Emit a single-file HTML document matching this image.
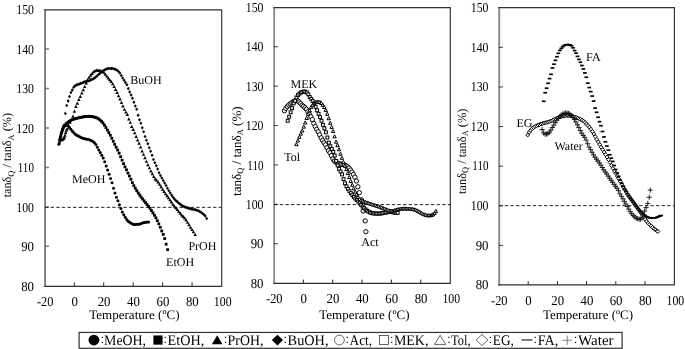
<!DOCTYPE html>
<html><head><meta charset="utf-8"><title>chart</title>
<style>html,body{margin:0;padding:0;background:#fff}svg{display:block;will-change:transform}text{font-family:"Liberation Serif",serif;text-rendering:geometricPrecision}</style>
</head><body>
<svg width="685" height="349" viewBox="0 0 685 349">
<rect width="685" height="349" fill="#fff"/>
<path d="M45.05 9.40V286.80" stroke="#6e6e6e" stroke-width="1.7" fill="none"/>
<path d="M44.20 9.9H221.7V286.3H44.20" stroke="#303030" stroke-width="1.15" fill="none" stroke-linejoin="miter"/>
<text x="16.25" y="14.25" font-size="13.7" fill="#000" textLength="17.70" lengthAdjust="spacingAndGlyphs">150</text>
<text x="16.25" y="53.74" font-size="13.7" fill="#000" textLength="17.70" lengthAdjust="spacingAndGlyphs">140</text>
<text x="16.25" y="93.22" font-size="13.7" fill="#000" textLength="17.70" lengthAdjust="spacingAndGlyphs">130</text>
<text x="16.25" y="132.71" font-size="13.7" fill="#000" textLength="17.70" lengthAdjust="spacingAndGlyphs">120</text>
<text x="17.75" y="172.19" font-size="13.7" fill="#000" textLength="16.20" lengthAdjust="spacingAndGlyphs">110</text>
<text x="16.25" y="211.68" font-size="13.7" fill="#000" textLength="17.70" lengthAdjust="spacingAndGlyphs">100</text>
<text x="21.15" y="251.16" font-size="13.7" fill="#000" textLength="12.80" lengthAdjust="spacingAndGlyphs">90</text>
<text x="21.15" y="290.65" font-size="13.7" fill="#000" textLength="12.80" lengthAdjust="spacingAndGlyphs">80</text>
<text x="36.90" y="306.00" font-size="13.7" fill="#000" textLength="16.50" lengthAdjust="spacingAndGlyphs">-20</text>
<text x="71.39" y="306.00" font-size="13.7" fill="#000" textLength="6.40" lengthAdjust="spacingAndGlyphs">0</text>
<text x="97.63" y="306.00" font-size="13.7" fill="#000" textLength="12.80" lengthAdjust="spacingAndGlyphs">20</text>
<text x="127.07" y="306.00" font-size="13.7" fill="#000" textLength="12.80" lengthAdjust="spacingAndGlyphs">40</text>
<text x="156.52" y="306.00" font-size="13.7" fill="#000" textLength="12.80" lengthAdjust="spacingAndGlyphs">60</text>
<text x="185.96" y="306.00" font-size="13.7" fill="#000" textLength="12.80" lengthAdjust="spacingAndGlyphs">80</text>
<text x="213.85" y="306.00" font-size="13.7" fill="#000" textLength="17.70" lengthAdjust="spacingAndGlyphs">100</text>
<path d="M44.75 48.94h4.2M44.75 88.42h4.2M44.75 127.91h4.2M44.75 167.39h4.2M44.75 206.88h4.2M44.75 246.36h4.2" stroke="#777" stroke-width="1.5" fill="none"/>
<path d="M74.29 286.3v-3.8M103.73 286.3v-3.8M133.18 286.3v-3.8M162.62 286.3v-3.8M192.06 286.3v-3.8" stroke="#222" stroke-width="1" fill="none"/>
<path d="M45.05 207.33H221.7" stroke="#222" stroke-width="1" stroke-dasharray="3.4 2.2" fill="none"/>
<text x="89.30" y="319.0" font-size="13" fill="#000" textLength="90.2" lengthAdjust="spacingAndGlyphs">Temperature (ºC)</text>
<text transform="translate(11.45 197.30) rotate(-90)" font-size="12.4" fill="#000" textLength="84.3" lengthAdjust="spacingAndGlyphs">tanδ<tspan font-size="8.5" dy="2.2">Q</tspan><tspan dy="-2.2"> / tanδ</tspan><tspan font-size="8.5" dy="2.2">A</tspan><tspan dy="-2.2"> (%)</tspan></text>
<path d="M274.2 7.15V283.90" stroke="#888" stroke-width="1.8" fill="none"/>
<path d="M273.30 7.65H450.3V283.4H273.30" stroke="#303030" stroke-width="1.15" fill="none" stroke-linejoin="miter"/>
<text x="245.80" y="12.00" font-size="13.7" fill="#000" textLength="17.70" lengthAdjust="spacingAndGlyphs">150</text>
<text x="245.80" y="51.39" font-size="13.7" fill="#000" textLength="17.70" lengthAdjust="spacingAndGlyphs">140</text>
<text x="245.80" y="90.79" font-size="13.7" fill="#000" textLength="17.70" lengthAdjust="spacingAndGlyphs">130</text>
<text x="245.80" y="130.18" font-size="13.7" fill="#000" textLength="17.70" lengthAdjust="spacingAndGlyphs">120</text>
<text x="247.30" y="169.57" font-size="13.7" fill="#000" textLength="16.20" lengthAdjust="spacingAndGlyphs">110</text>
<text x="245.80" y="208.96" font-size="13.7" fill="#000" textLength="17.70" lengthAdjust="spacingAndGlyphs">100</text>
<text x="250.70" y="248.36" font-size="13.7" fill="#000" textLength="12.80" lengthAdjust="spacingAndGlyphs">90</text>
<text x="250.70" y="287.75" font-size="13.7" fill="#000" textLength="12.80" lengthAdjust="spacingAndGlyphs">80</text>
<text x="266.05" y="303.10" font-size="13.7" fill="#000" textLength="16.50" lengthAdjust="spacingAndGlyphs">-20</text>
<text x="300.45" y="303.10" font-size="13.7" fill="#000" textLength="6.40" lengthAdjust="spacingAndGlyphs">0</text>
<text x="326.60" y="303.10" font-size="13.7" fill="#000" textLength="12.80" lengthAdjust="spacingAndGlyphs">20</text>
<text x="355.95" y="303.10" font-size="13.7" fill="#000" textLength="12.80" lengthAdjust="spacingAndGlyphs">40</text>
<text x="385.30" y="303.10" font-size="13.7" fill="#000" textLength="12.80" lengthAdjust="spacingAndGlyphs">60</text>
<text x="414.65" y="303.10" font-size="13.7" fill="#000" textLength="12.80" lengthAdjust="spacingAndGlyphs">80</text>
<text x="442.45" y="303.10" font-size="13.7" fill="#000" textLength="17.70" lengthAdjust="spacingAndGlyphs">100</text>
<path d="M273.90 46.74h4.2M273.90 86.14h4.2M273.90 125.53h4.2M273.90 164.92h4.2M273.90 204.31h4.2M273.90 243.71h4.2" stroke="#111" stroke-width="0.8" fill="none"/>
<path d="M303.35 283.4v-3.8M332.70 283.4v-3.8M362.05 283.4v-3.8M391.40 283.4v-3.8M420.75 283.4v-3.8" stroke="#222" stroke-width="1" fill="none"/>
<path d="M274.2 204.61H450.3" stroke="#222" stroke-width="1" stroke-dasharray="3.4 2.2" fill="none"/>
<text x="319.30" y="319.0" font-size="13" fill="#000" textLength="90.2" lengthAdjust="spacingAndGlyphs">Temperature (ºC)</text>
<text transform="translate(240.60 196.00) rotate(-90)" font-size="13.1" fill="#000" textLength="89.7" lengthAdjust="spacingAndGlyphs">tanδ<tspan font-size="8.5" dy="2.2">Q</tspan><tspan dy="-2.2"> / tanδ</tspan><tspan font-size="8.5" dy="2.2">A</tspan><tspan dy="-2.2"> (%)</tspan></text>
<path d="M499.2 7.10V285.40" stroke="#888" stroke-width="1.9" fill="none"/>
<path d="M498.25 7.6H674.4V284.9H498.25" stroke="#303030" stroke-width="1.15" fill="none" stroke-linejoin="miter"/>
<text x="470.80" y="11.95" font-size="13.7" fill="#000" textLength="17.70" lengthAdjust="spacingAndGlyphs">150</text>
<text x="470.80" y="51.56" font-size="13.7" fill="#000" textLength="17.70" lengthAdjust="spacingAndGlyphs">140</text>
<text x="470.80" y="91.18" font-size="13.7" fill="#000" textLength="17.70" lengthAdjust="spacingAndGlyphs">130</text>
<text x="470.80" y="130.79" font-size="13.7" fill="#000" textLength="17.70" lengthAdjust="spacingAndGlyphs">120</text>
<text x="472.30" y="170.41" font-size="13.7" fill="#000" textLength="16.20" lengthAdjust="spacingAndGlyphs">110</text>
<text x="470.80" y="210.02" font-size="13.7" fill="#000" textLength="17.70" lengthAdjust="spacingAndGlyphs">100</text>
<text x="475.70" y="249.64" font-size="13.7" fill="#000" textLength="12.80" lengthAdjust="spacingAndGlyphs">90</text>
<text x="475.70" y="289.25" font-size="13.7" fill="#000" textLength="12.80" lengthAdjust="spacingAndGlyphs">80</text>
<text x="491.05" y="304.60" font-size="13.7" fill="#000" textLength="16.50" lengthAdjust="spacingAndGlyphs">-20</text>
<text x="525.30" y="304.60" font-size="13.7" fill="#000" textLength="6.40" lengthAdjust="spacingAndGlyphs">0</text>
<text x="551.30" y="304.60" font-size="13.7" fill="#000" textLength="12.80" lengthAdjust="spacingAndGlyphs">20</text>
<text x="580.50" y="304.60" font-size="13.7" fill="#000" textLength="12.80" lengthAdjust="spacingAndGlyphs">40</text>
<text x="609.70" y="304.60" font-size="13.7" fill="#000" textLength="12.80" lengthAdjust="spacingAndGlyphs">60</text>
<text x="638.90" y="304.60" font-size="13.7" fill="#000" textLength="12.80" lengthAdjust="spacingAndGlyphs">80</text>
<text x="666.55" y="304.60" font-size="13.7" fill="#000" textLength="17.70" lengthAdjust="spacingAndGlyphs">100</text>
<path d="M498.90 47.31h4.2M498.90 86.93h4.2M498.90 126.54h4.2M498.90 166.16h4.2M498.90 205.77h4.2M498.90 245.39h4.2" stroke="#111" stroke-width="0.8" fill="none"/>
<path d="M528.20 284.9v-3.8M557.40 284.9v-3.8M586.60 284.9v-3.8M615.80 284.9v-3.8M645.00 284.9v-3.8" stroke="#222" stroke-width="1" fill="none"/>
<path d="M499.2 205.67H674.4" stroke="#222" stroke-width="1" stroke-dasharray="3.4 2.2" fill="none"/>
<text x="542.90" y="319.0" font-size="13" fill="#000" textLength="90.2" lengthAdjust="spacingAndGlyphs">Temperature (ºC)</text>
<text transform="translate(465.60 194.00) rotate(-90)" font-size="12.5" fill="#000" textLength="85.4" lengthAdjust="spacingAndGlyphs">tanδ<tspan font-size="8.5" dy="2.2">Q</tspan><tspan dy="-2.2"> / tanδ</tspan><tspan font-size="8.5" dy="2.2">A</tspan><tspan dy="-2.2"> (%)</tspan></text>
<g fill="#000" stroke="none"><circle cx="58.80" cy="144.30" r="1.5"/><circle cx="59.58" cy="140.12" r="1.5"/><circle cx="60.36" cy="136.67" r="1.5"/><circle cx="61.14" cy="133.61" r="1.5"/><circle cx="61.92" cy="130.98" r="1.5"/><circle cx="62.70" cy="128.71" r="1.5"/><circle cx="63.48" cy="127.05" r="1.5"/><circle cx="64.26" cy="125.70" r="1.5"/><circle cx="65.03" cy="125.28" r="1.5"/><circle cx="66.50" cy="125.20" r="1.5"/><circle cx="67.97" cy="125.74" r="1.5"/><circle cx="69.44" cy="127.52" r="1.5"/><circle cx="70.91" cy="129.34" r="1.5"/><circle cx="72.38" cy="131.25" r="1.5"/><circle cx="73.85" cy="132.84" r="1.5"/><circle cx="75.32" cy="134.14" r="1.5"/><circle cx="76.79" cy="135.18" r="1.5"/><circle cx="78.26" cy="136.08" r="1.5"/><circle cx="79.73" cy="136.87" r="1.5"/><circle cx="81.20" cy="137.56" r="1.5"/><circle cx="82.67" cy="138.13" r="1.5"/><circle cx="84.14" cy="138.62" r="1.5"/><circle cx="85.61" cy="138.98" r="1.5"/><circle cx="87.08" cy="139.21" r="1.5"/><circle cx="88.55" cy="139.46" r="1.5"/><circle cx="90.02" cy="139.97" r="1.5"/><circle cx="91.49" cy="140.73" r="1.5"/><circle cx="92.96" cy="141.62" r="1.5"/><circle cx="94.42" cy="142.81" r="1.5"/><circle cx="95.89" cy="144.46" r="1.5"/><circle cx="97.36" cy="147.17" r="1.5"/><circle cx="98.83" cy="150.06" r="1.5"/><circle cx="100.30" cy="152.53" r="1.5"/><circle cx="101.77" cy="155.18" r="1.5"/><circle cx="103.24" cy="158.03" r="1.5"/><circle cx="104.71" cy="161.75" r="1.5"/><circle cx="106.18" cy="166.03" r="1.5"/><circle cx="107.65" cy="170.00" r="1.5"/><circle cx="109.12" cy="174.32" r="1.5"/><circle cx="110.59" cy="178.46" r="1.5"/><circle cx="112.05" cy="182.80" r="1.5"/><circle cx="113.52" cy="188.21" r="1.5"/><circle cx="114.99" cy="192.99" r="1.5"/><circle cx="116.46" cy="197.29" r="1.5"/><circle cx="117.93" cy="200.83" r="1.5"/><circle cx="119.40" cy="204.81" r="1.5"/><circle cx="120.87" cy="208.40" r="1.5"/><circle cx="122.34" cy="212.03" r="1.5"/><circle cx="123.81" cy="214.81" r="1.5"/><circle cx="125.28" cy="217.28" r="1.5"/><circle cx="126.74" cy="219.52" r="1.5"/><circle cx="128.21" cy="221.14" r="1.5"/><circle cx="129.68" cy="222.36" r="1.5"/><circle cx="131.15" cy="223.28" r="1.5"/><circle cx="132.62" cy="223.95" r="1.5"/><circle cx="134.09" cy="224.43" r="1.5"/><circle cx="135.56" cy="224.48" r="1.5"/><circle cx="137.03" cy="224.35" r="1.5"/><circle cx="138.50" cy="224.14" r="1.5"/><circle cx="139.97" cy="223.88" r="1.5"/><circle cx="141.44" cy="223.38" r="1.5"/><circle cx="142.91" cy="222.84" r="1.5"/><circle cx="144.38" cy="222.49" r="1.5"/><circle cx="145.85" cy="222.22" r="1.5"/><circle cx="147.32" cy="222.01" r="1.5"/><circle cx="148.60" cy="221.90" r="1.5"/></g>
<g fill="#000" stroke="none"><rect x="57.90" y="141.40" width="2.8" height="2.8"/><rect x="58.68" y="137.55" width="2.8" height="2.8"/><rect x="59.46" y="134.44" width="2.8" height="2.8"/><rect x="60.24" y="131.51" width="2.8" height="2.8"/><rect x="61.02" y="128.87" width="2.8" height="2.8"/><rect x="61.80" y="126.61" width="2.8" height="2.8"/><rect x="62.58" y="124.84" width="2.8" height="2.8"/><rect x="63.35" y="123.61" width="2.8" height="2.8"/><rect x="64.82" y="122.19" width="2.8" height="2.8"/><rect x="66.29" y="121.12" width="2.8" height="2.8"/><rect x="67.76" y="120.04" width="2.8" height="2.8"/><rect x="69.23" y="119.05" width="2.8" height="2.8"/><rect x="70.70" y="118.34" width="2.8" height="2.8"/><rect x="72.17" y="117.81" width="2.8" height="2.8"/><rect x="73.64" y="117.37" width="2.8" height="2.8"/><rect x="75.11" y="116.96" width="2.8" height="2.8"/><rect x="76.58" y="116.58" width="2.8" height="2.8"/><rect x="78.05" y="116.24" width="2.8" height="2.8"/><rect x="79.52" y="115.93" width="2.8" height="2.8"/><rect x="80.99" y="115.64" width="2.8" height="2.8"/><rect x="82.46" y="115.37" width="2.8" height="2.8"/><rect x="83.93" y="115.19" width="2.8" height="2.8"/><rect x="85.40" y="115.05" width="2.8" height="2.8"/><rect x="86.87" y="114.95" width="2.8" height="2.8"/><rect x="88.34" y="114.90" width="2.8" height="2.8"/><rect x="89.81" y="115.02" width="2.8" height="2.8"/><rect x="91.28" y="115.32" width="2.8" height="2.8"/><rect x="92.75" y="115.64" width="2.8" height="2.8"/><rect x="94.22" y="116.05" width="2.8" height="2.8"/><rect x="95.69" y="116.62" width="2.8" height="2.8"/><rect x="97.16" y="117.51" width="2.8" height="2.8"/><rect x="98.63" y="118.62" width="2.8" height="2.8"/><rect x="100.10" y="119.95" width="2.8" height="2.8"/><rect x="101.56" y="121.58" width="2.8" height="2.8"/><rect x="103.03" y="123.68" width="2.8" height="2.8"/><rect x="104.50" y="126.08" width="2.8" height="2.8"/><rect x="105.97" y="128.68" width="2.8" height="2.8"/><rect x="107.44" y="131.20" width="2.8" height="2.8"/><rect x="108.91" y="133.88" width="2.8" height="2.8"/><rect x="110.38" y="136.85" width="2.8" height="2.8"/><rect x="111.85" y="139.91" width="2.8" height="2.8"/><rect x="113.32" y="142.96" width="2.8" height="2.8"/><rect x="114.79" y="145.90" width="2.8" height="2.8"/><rect x="116.26" y="148.66" width="2.8" height="2.8"/><rect x="117.73" y="151.73" width="2.8" height="2.8"/><rect x="119.20" y="155.32" width="2.8" height="2.8"/><rect x="120.67" y="158.78" width="2.8" height="2.8"/><rect x="122.14" y="162.28" width="2.8" height="2.8"/><rect x="123.60" y="165.44" width="2.8" height="2.8"/><rect x="125.07" y="168.39" width="2.8" height="2.8"/><rect x="126.54" y="171.68" width="2.8" height="2.8"/><rect x="128.01" y="174.59" width="2.8" height="2.8"/><rect x="129.48" y="177.86" width="2.8" height="2.8"/><rect x="130.95" y="181.23" width="2.8" height="2.8"/><rect x="132.42" y="184.23" width="2.8" height="2.8"/><rect x="133.89" y="186.81" width="2.8" height="2.8"/><rect x="135.36" y="189.22" width="2.8" height="2.8"/><rect x="136.83" y="191.55" width="2.8" height="2.8"/><rect x="138.30" y="193.73" width="2.8" height="2.8"/><rect x="139.77" y="195.73" width="2.8" height="2.8"/><rect x="141.24" y="197.63" width="2.8" height="2.8"/><rect x="142.71" y="199.47" width="2.8" height="2.8"/><rect x="144.18" y="201.33" width="2.8" height="2.8"/><rect x="145.65" y="203.16" width="2.8" height="2.8"/><rect x="147.12" y="205.04" width="2.8" height="2.8"/><rect x="148.58" y="207.04" width="2.8" height="2.8"/><rect x="150.05" y="209.20" width="2.8" height="2.8"/><rect x="151.52" y="211.48" width="2.8" height="2.8"/><rect x="152.99" y="213.83" width="2.8" height="2.8"/><rect x="154.46" y="216.38" width="2.8" height="2.8"/><rect x="155.93" y="219.27" width="2.8" height="2.8"/><rect x="157.40" y="222.43" width="2.8" height="2.8"/><rect x="158.87" y="225.89" width="2.8" height="2.8"/><rect x="160.34" y="229.60" width="2.8" height="2.8"/><rect x="161.81" y="233.07" width="2.8" height="2.8"/><rect x="163.28" y="237.16" width="2.8" height="2.8"/><rect x="164.75" y="242.80" width="2.8" height="2.8"/><rect x="166.20" y="248.20" width="2.8" height="2.8"/></g>
<g fill="#000" stroke="none"><path d="M61.50 138.20l1.75 3.2h-3.5z"/><path d="M62.20 137.87l1.75 3.2h-3.5z"/><path d="M62.90 137.30l1.75 3.2h-3.5z"/><path d="M63.60 136.59l1.75 3.2h-3.5z"/><path d="M64.30 135.60l1.75 3.2h-3.5z"/><path d="M65.00 133.49l1.75 3.2h-3.5z"/><path d="M65.70 130.75l1.75 3.2h-3.5z"/><path d="M66.40 128.64l1.75 3.2h-3.5z"/><path d="M67.10 127.09l1.75 3.2h-3.5z"/><path d="M68.56 123.77l1.75 3.2h-3.5z"/><path d="M70.03 120.62l1.75 3.2h-3.5z"/><path d="M71.50 117.88l1.75 3.2h-3.5z"/><path d="M72.97 114.60l1.75 3.2h-3.5z"/><path d="M74.44 109.52l1.75 3.2h-3.5z"/><path d="M75.91 104.73l1.75 3.2h-3.5z"/><path d="M77.38 101.45l1.75 3.2h-3.5z"/><path d="M78.85 97.84l1.75 3.2h-3.5z"/><path d="M80.32 94.83l1.75 3.2h-3.5z"/><path d="M81.79 91.26l1.75 3.2h-3.5z"/><path d="M83.26 87.97l1.75 3.2h-3.5z"/><path d="M84.72 84.91l1.75 3.2h-3.5z"/><path d="M86.19 81.30l1.75 3.2h-3.5z"/><path d="M87.66 77.97l1.75 3.2h-3.5z"/><path d="M89.13 75.49l1.75 3.2h-3.5z"/><path d="M90.60 73.53l1.75 3.2h-3.5z"/><path d="M92.07 71.71l1.75 3.2h-3.5z"/><path d="M93.54 69.97l1.75 3.2h-3.5z"/><path d="M95.01 68.97l1.75 3.2h-3.5z"/><path d="M96.48 68.50l1.75 3.2h-3.5z"/><path d="M97.95 68.54l1.75 3.2h-3.5z"/><path d="M99.42 68.65l1.75 3.2h-3.5z"/><path d="M100.89 68.93l1.75 3.2h-3.5z"/><path d="M102.36 69.62l1.75 3.2h-3.5z"/><path d="M103.83 70.63l1.75 3.2h-3.5z"/><path d="M105.30 72.45l1.75 3.2h-3.5z"/><path d="M106.77 74.33l1.75 3.2h-3.5z"/><path d="M108.24 76.19l1.75 3.2h-3.5z"/><path d="M109.70 77.96l1.75 3.2h-3.5z"/><path d="M111.17 79.84l1.75 3.2h-3.5z"/><path d="M112.64 82.01l1.75 3.2h-3.5z"/><path d="M114.11 84.69l1.75 3.2h-3.5z"/><path d="M115.58 87.69l1.75 3.2h-3.5z"/><path d="M117.05 90.81l1.75 3.2h-3.5z"/><path d="M118.52 94.08l1.75 3.2h-3.5z"/><path d="M119.99 97.26l1.75 3.2h-3.5z"/><path d="M121.46 100.75l1.75 3.2h-3.5z"/><path d="M122.93 104.37l1.75 3.2h-3.5z"/><path d="M124.40 107.63l1.75 3.2h-3.5z"/><path d="M125.87 110.39l1.75 3.2h-3.5z"/><path d="M127.34 112.86l1.75 3.2h-3.5z"/><path d="M128.80 117.32l1.75 3.2h-3.5z"/><path d="M130.27 120.66l1.75 3.2h-3.5z"/><path d="M131.74 124.76l1.75 3.2h-3.5z"/><path d="M133.21 127.72l1.75 3.2h-3.5z"/><path d="M134.68 131.17l1.75 3.2h-3.5z"/><path d="M136.15 134.74l1.75 3.2h-3.5z"/><path d="M137.62 138.18l1.75 3.2h-3.5z"/><path d="M139.09 141.49l1.75 3.2h-3.5z"/><path d="M140.56 145.28l1.75 3.2h-3.5z"/><path d="M142.02 149.21l1.75 3.2h-3.5z"/><path d="M143.49 152.65l1.75 3.2h-3.5z"/><path d="M144.96 156.08l1.75 3.2h-3.5z"/><path d="M146.43 159.64l1.75 3.2h-3.5z"/><path d="M147.90 162.94l1.75 3.2h-3.5z"/><path d="M149.37 166.17l1.75 3.2h-3.5z"/><path d="M150.84 169.21l1.75 3.2h-3.5z"/><path d="M152.31 172.06l1.75 3.2h-3.5z"/><path d="M153.78 174.78l1.75 3.2h-3.5z"/><path d="M155.25 177.18l1.75 3.2h-3.5z"/><path d="M156.72 178.60l1.75 3.2h-3.5z"/><path d="M158.19 180.33l1.75 3.2h-3.5z"/><path d="M159.65 182.50l1.75 3.2h-3.5z"/><path d="M161.12 185.00l1.75 3.2h-3.5z"/><path d="M162.59 187.47l1.75 3.2h-3.5z"/><path d="M164.06 189.83l1.75 3.2h-3.5z"/><path d="M165.53 192.01l1.75 3.2h-3.5z"/><path d="M167.00 194.00l1.75 3.2h-3.5z"/><path d="M168.47 196.05l1.75 3.2h-3.5z"/><path d="M169.94 198.15l1.75 3.2h-3.5z"/><path d="M171.41 200.29l1.75 3.2h-3.5z"/><path d="M172.88 202.45l1.75 3.2h-3.5z"/><path d="M174.35 204.38l1.75 3.2h-3.5z"/><path d="M175.82 206.05l1.75 3.2h-3.5z"/><path d="M177.29 207.82l1.75 3.2h-3.5z"/><path d="M178.76 209.75l1.75 3.2h-3.5z"/><path d="M180.23 211.59l1.75 3.2h-3.5z"/><path d="M181.70 213.31l1.75 3.2h-3.5z"/><path d="M183.17 214.87l1.75 3.2h-3.5z"/><path d="M184.64 216.28l1.75 3.2h-3.5z"/><path d="M186.11 218.24l1.75 3.2h-3.5z"/><path d="M187.58 220.67l1.75 3.2h-3.5z"/><path d="M189.04 223.08l1.75 3.2h-3.5z"/><path d="M190.51 225.52l1.75 3.2h-3.5z"/><path d="M191.98 227.89l1.75 3.2h-3.5z"/><path d="M193.45 230.14l1.75 3.2h-3.5z"/><path d="M195.20 232.70l1.75 3.2h-3.5z"/></g>
<g fill="#000" stroke="none"><path d="M65.30 111.85l1.5 1.75l-1.5 1.75l-1.5 -1.75z"/><path d="M66.70 103.82l1.5 1.75l-1.5 1.75l-1.5 -1.75z"/><path d="M68.10 99.28l1.5 1.75l-1.5 1.75l-1.5 -1.75z"/><path d="M69.50 94.66l1.5 1.75l-1.5 1.75l-1.5 -1.75z"/><path d="M70.90 90.78l1.5 1.75l-1.5 1.75l-1.5 -1.75z"/><path d="M72.30 88.15l1.5 1.75l-1.5 1.75l-1.5 -1.75z"/><path d="M73.69 85.52l1.5 1.75l-1.5 1.75l-1.5 -1.75z"/><path d="M75.09 84.05l1.5 1.75l-1.5 1.75l-1.5 -1.75z"/><path d="M76.49 83.28l1.5 1.75l-1.5 1.75l-1.5 -1.75z"/><path d="M77.89 82.75l1.5 1.75l-1.5 1.75l-1.5 -1.75z"/><path d="M79.29 82.35l1.5 1.75l-1.5 1.75l-1.5 -1.75z"/><path d="M80.69 81.83l1.5 1.75l-1.5 1.75l-1.5 -1.75z"/><path d="M82.09 81.23l1.5 1.75l-1.5 1.75l-1.5 -1.75z"/><path d="M83.49 80.58l1.5 1.75l-1.5 1.75l-1.5 -1.75z"/><path d="M84.89 79.93l1.5 1.75l-1.5 1.75l-1.5 -1.75z"/><path d="M86.29 79.52l1.5 1.75l-1.5 1.75l-1.5 -1.75z"/><path d="M87.69 79.26l1.5 1.75l-1.5 1.75l-1.5 -1.75z"/><path d="M89.09 78.96l1.5 1.75l-1.5 1.75l-1.5 -1.75z"/><path d="M90.49 78.51l1.5 1.75l-1.5 1.75l-1.5 -1.75z"/><path d="M91.89 77.87l1.5 1.75l-1.5 1.75l-1.5 -1.75z"/><path d="M93.29 77.11l1.5 1.75l-1.5 1.75l-1.5 -1.75z"/><path d="M94.69 76.22l1.5 1.75l-1.5 1.75l-1.5 -1.75z"/><path d="M96.09 75.06l1.5 1.75l-1.5 1.75l-1.5 -1.75z"/><path d="M97.49 73.74l1.5 1.75l-1.5 1.75l-1.5 -1.75z"/><path d="M98.89 72.48l1.5 1.75l-1.5 1.75l-1.5 -1.75z"/><path d="M100.29 71.27l1.5 1.75l-1.5 1.75l-1.5 -1.75z"/><path d="M101.69 70.13l1.5 1.75l-1.5 1.75l-1.5 -1.75z"/><path d="M103.08 69.11l1.5 1.75l-1.5 1.75l-1.5 -1.75z"/><path d="M104.48 68.17l1.5 1.75l-1.5 1.75l-1.5 -1.75z"/><path d="M105.88 67.55l1.5 1.75l-1.5 1.75l-1.5 -1.75z"/><path d="M107.28 67.12l1.5 1.75l-1.5 1.75l-1.5 -1.75z"/><path d="M108.68 66.87l1.5 1.75l-1.5 1.75l-1.5 -1.75z"/><path d="M110.08 66.85l1.5 1.75l-1.5 1.75l-1.5 -1.75z"/><path d="M111.48 66.85l1.5 1.75l-1.5 1.75l-1.5 -1.75z"/><path d="M112.88 66.87l1.5 1.75l-1.5 1.75l-1.5 -1.75z"/><path d="M114.28 67.24l1.5 1.75l-1.5 1.75l-1.5 -1.75z"/><path d="M115.68 67.85l1.5 1.75l-1.5 1.75l-1.5 -1.75z"/><path d="M117.08 68.59l1.5 1.75l-1.5 1.75l-1.5 -1.75z"/><path d="M118.48 69.66l1.5 1.75l-1.5 1.75l-1.5 -1.75z"/><path d="M119.88 71.17l1.5 1.75l-1.5 1.75l-1.5 -1.75z"/><path d="M121.28 73.68l1.5 1.75l-1.5 1.75l-1.5 -1.75z"/><path d="M122.68 76.14l1.5 1.75l-1.5 1.75l-1.5 -1.75z"/><path d="M124.08 78.48l1.5 1.75l-1.5 1.75l-1.5 -1.75z"/><path d="M125.48 80.70l1.5 1.75l-1.5 1.75l-1.5 -1.75z"/><path d="M126.88 83.11l1.5 1.75l-1.5 1.75l-1.5 -1.75z"/><path d="M128.27 86.78l1.5 1.75l-1.5 1.75l-1.5 -1.75z"/><path d="M129.67 90.13l1.5 1.75l-1.5 1.75l-1.5 -1.75z"/><path d="M131.07 93.36l1.5 1.75l-1.5 1.75l-1.5 -1.75z"/><path d="M132.47 96.60l1.5 1.75l-1.5 1.75l-1.5 -1.75z"/><path d="M133.87 100.62l1.5 1.75l-1.5 1.75l-1.5 -1.75z"/><path d="M135.27 104.27l1.5 1.75l-1.5 1.75l-1.5 -1.75z"/><path d="M136.67 107.62l1.5 1.75l-1.5 1.75l-1.5 -1.75z"/><path d="M138.07 113.54l1.5 1.75l-1.5 1.75l-1.5 -1.75z"/><path d="M139.47 118.08l1.5 1.75l-1.5 1.75l-1.5 -1.75z"/><path d="M140.87 121.61l1.5 1.75l-1.5 1.75l-1.5 -1.75z"/><path d="M142.27 125.95l1.5 1.75l-1.5 1.75l-1.5 -1.75z"/><path d="M143.66 129.94l1.5 1.75l-1.5 1.75l-1.5 -1.75z"/><path d="M145.06 134.84l1.5 1.75l-1.5 1.75l-1.5 -1.75z"/><path d="M146.46 138.60l1.5 1.75l-1.5 1.75l-1.5 -1.75z"/><path d="M147.86 142.03l1.5 1.75l-1.5 1.75l-1.5 -1.75z"/><path d="M149.26 145.99l1.5 1.75l-1.5 1.75l-1.5 -1.75z"/><path d="M150.66 149.40l1.5 1.75l-1.5 1.75l-1.5 -1.75z"/><path d="M152.06 153.62l1.5 1.75l-1.5 1.75l-1.5 -1.75z"/><path d="M153.46 157.65l1.5 1.75l-1.5 1.75l-1.5 -1.75z"/><path d="M154.86 160.96l1.5 1.75l-1.5 1.75l-1.5 -1.75z"/><path d="M156.26 163.92l1.5 1.75l-1.5 1.75l-1.5 -1.75z"/><path d="M157.65 167.32l1.5 1.75l-1.5 1.75l-1.5 -1.75z"/><path d="M159.05 170.91l1.5 1.75l-1.5 1.75l-1.5 -1.75z"/><path d="M160.45 173.74l1.5 1.75l-1.5 1.75l-1.5 -1.75z"/><path d="M161.85 176.25l1.5 1.75l-1.5 1.75l-1.5 -1.75z"/><path d="M163.25 178.76l1.5 1.75l-1.5 1.75l-1.5 -1.75z"/><path d="M164.65 181.25l1.5 1.75l-1.5 1.75l-1.5 -1.75z"/><path d="M166.05 183.76l1.5 1.75l-1.5 1.75l-1.5 -1.75z"/><path d="M167.45 186.40l1.5 1.75l-1.5 1.75l-1.5 -1.75z"/><path d="M168.85 188.91l1.5 1.75l-1.5 1.75l-1.5 -1.75z"/><path d="M170.25 191.26l1.5 1.75l-1.5 1.75l-1.5 -1.75z"/><path d="M171.65 193.43l1.5 1.75l-1.5 1.75l-1.5 -1.75z"/><path d="M173.05 195.47l1.5 1.75l-1.5 1.75l-1.5 -1.75z"/><path d="M174.45 197.28l1.5 1.75l-1.5 1.75l-1.5 -1.75z"/><path d="M175.85 198.75l1.5 1.75l-1.5 1.75l-1.5 -1.75z"/><path d="M177.25 200.03l1.5 1.75l-1.5 1.75l-1.5 -1.75z"/><path d="M178.65 201.21l1.5 1.75l-1.5 1.75l-1.5 -1.75z"/><path d="M180.05 202.34l1.5 1.75l-1.5 1.75l-1.5 -1.75z"/><path d="M181.45 203.40l1.5 1.75l-1.5 1.75l-1.5 -1.75z"/><path d="M182.84 204.27l1.5 1.75l-1.5 1.75l-1.5 -1.75z"/><path d="M184.24 204.96l1.5 1.75l-1.5 1.75l-1.5 -1.75z"/><path d="M185.64 205.54l1.5 1.75l-1.5 1.75l-1.5 -1.75z"/><path d="M187.04 206.03l1.5 1.75l-1.5 1.75l-1.5 -1.75z"/><path d="M188.44 206.46l1.5 1.75l-1.5 1.75l-1.5 -1.75z"/><path d="M189.84 206.84l1.5 1.75l-1.5 1.75l-1.5 -1.75z"/><path d="M191.24 207.17l1.5 1.75l-1.5 1.75l-1.5 -1.75z"/><path d="M192.64 207.49l1.5 1.75l-1.5 1.75l-1.5 -1.75z"/><path d="M194.04 207.79l1.5 1.75l-1.5 1.75l-1.5 -1.75z"/><path d="M195.44 208.09l1.5 1.75l-1.5 1.75l-1.5 -1.75z"/><path d="M196.84 208.49l1.5 1.75l-1.5 1.75l-1.5 -1.75z"/><path d="M198.24 209.06l1.5 1.75l-1.5 1.75l-1.5 -1.75z"/><path d="M199.64 209.76l1.5 1.75l-1.5 1.75l-1.5 -1.75z"/><path d="M201.04 210.62l1.5 1.75l-1.5 1.75l-1.5 -1.75z"/><path d="M202.44 211.65l1.5 1.75l-1.5 1.75l-1.5 -1.75z"/><path d="M203.84 212.73l1.5 1.75l-1.5 1.75l-1.5 -1.75z"/><path d="M205.24 214.15l1.5 1.75l-1.5 1.75l-1.5 -1.75z"/><path d="M206.70 216.75l1.5 1.75l-1.5 1.75l-1.5 -1.75z"/></g>
<g fill="#fff" stroke="#000" stroke-width="1"><circle cx="284.40" cy="110.80" r="2.15"/><circle cx="285.87" cy="108.36" r="2.15"/><circle cx="287.34" cy="106.51" r="2.15"/><circle cx="288.81" cy="105.02" r="2.15"/><circle cx="290.28" cy="103.78" r="2.15"/><circle cx="291.75" cy="102.66" r="2.15"/><circle cx="293.22" cy="101.74" r="2.15"/><circle cx="294.69" cy="101.15" r="2.15"/><circle cx="296.16" cy="100.72" r="2.15"/><circle cx="297.63" cy="100.70" r="2.15"/><circle cx="299.10" cy="101.99" r="2.15"/><circle cx="300.56" cy="103.52" r="2.15"/><circle cx="302.03" cy="105.13" r="2.15"/><circle cx="303.50" cy="106.39" r="2.15"/><circle cx="304.97" cy="107.70" r="2.15"/><circle cx="306.44" cy="109.23" r="2.15"/><circle cx="307.91" cy="111.69" r="2.15"/><circle cx="309.38" cy="114.22" r="2.15"/><circle cx="310.85" cy="116.59" r="2.15"/><circle cx="312.32" cy="119.57" r="2.15"/><circle cx="313.79" cy="123.45" r="2.15"/><circle cx="315.26" cy="126.50" r="2.15"/><circle cx="316.73" cy="129.26" r="2.15"/><circle cx="318.20" cy="131.84" r="2.15"/><circle cx="319.67" cy="134.76" r="2.15"/><circle cx="321.14" cy="137.81" r="2.15"/><circle cx="322.60" cy="140.44" r="2.15"/><circle cx="324.07" cy="142.81" r="2.15"/><circle cx="325.54" cy="144.83" r="2.15"/><circle cx="327.01" cy="147.71" r="2.15"/><circle cx="328.48" cy="150.66" r="2.15"/><circle cx="329.95" cy="152.79" r="2.15"/><circle cx="331.42" cy="155.62" r="2.15"/><circle cx="332.89" cy="158.74" r="2.15"/><circle cx="334.36" cy="160.90" r="2.15"/><circle cx="335.83" cy="162.18" r="2.15"/><circle cx="337.30" cy="163.08" r="2.15"/><circle cx="338.77" cy="163.73" r="2.15"/><circle cx="340.24" cy="164.10" r="2.15"/><circle cx="341.71" cy="164.34" r="2.15"/><circle cx="343.18" cy="164.61" r="2.15"/><circle cx="344.65" cy="165.06" r="2.15"/><circle cx="346.12" cy="165.77" r="2.15"/><circle cx="347.59" cy="166.73" r="2.15"/><circle cx="349.05" cy="168.06" r="2.15"/><circle cx="350.52" cy="170.02" r="2.15"/><circle cx="351.99" cy="172.10" r="2.15"/><circle cx="353.46" cy="174.44" r="2.15"/><circle cx="354.93" cy="177.09" r="2.15"/><circle cx="356.40" cy="181.06" r="2.15"/><circle cx="357.87" cy="186.79" r="2.15"/><circle cx="359.34" cy="192.68" r="2.15"/><circle cx="361.40" cy="199.80" r="2.15"/><circle cx="363.10" cy="211.00" r="2.15"/><circle cx="365.20" cy="220.90" r="2.15"/><circle cx="365.90" cy="231.70" r="2.15"/></g>
<g fill="#fff" stroke="#000" stroke-width="1"><rect x="286.25" y="119.35" width="2.9" height="2.9"/><rect x="287.72" y="115.31" width="2.9" height="2.9"/><rect x="289.19" y="110.83" width="2.9" height="2.9"/><rect x="290.66" y="106.72" width="2.9" height="2.9"/><rect x="292.13" y="101.97" width="2.9" height="2.9"/><rect x="293.60" y="99.35" width="2.9" height="2.9"/><rect x="295.06" y="95.99" width="2.9" height="2.9"/><rect x="296.53" y="93.64" width="2.9" height="2.9"/><rect x="298.00" y="92.14" width="2.9" height="2.9"/><rect x="299.47" y="91.12" width="2.9" height="2.9"/><rect x="300.94" y="90.50" width="2.9" height="2.9"/><rect x="302.41" y="90.09" width="2.9" height="2.9"/><rect x="303.88" y="90.23" width="2.9" height="2.9"/><rect x="305.35" y="91.02" width="2.9" height="2.9"/><rect x="306.82" y="92.89" width="2.9" height="2.9"/><rect x="308.29" y="95.61" width="2.9" height="2.9"/><rect x="309.76" y="97.47" width="2.9" height="2.9"/><rect x="311.23" y="99.48" width="2.9" height="2.9"/><rect x="312.70" y="102.05" width="2.9" height="2.9"/><rect x="314.17" y="105.33" width="2.9" height="2.9"/><rect x="315.64" y="108.83" width="2.9" height="2.9"/><rect x="317.10" y="112.30" width="2.9" height="2.9"/><rect x="318.57" y="115.69" width="2.9" height="2.9"/><rect x="320.04" y="119.25" width="2.9" height="2.9"/><rect x="321.51" y="123.39" width="2.9" height="2.9"/><rect x="322.98" y="126.83" width="2.9" height="2.9"/><rect x="324.45" y="130.85" width="2.9" height="2.9"/><rect x="325.92" y="136.03" width="2.9" height="2.9"/><rect x="327.39" y="141.24" width="2.9" height="2.9"/><rect x="328.86" y="144.82" width="2.9" height="2.9"/><rect x="330.33" y="147.49" width="2.9" height="2.9"/><rect x="331.80" y="150.43" width="2.9" height="2.9"/><rect x="333.27" y="154.10" width="2.9" height="2.9"/><rect x="334.73" y="159.51" width="2.9" height="2.9"/><rect x="336.20" y="163.99" width="2.9" height="2.9"/><rect x="337.67" y="167.47" width="2.9" height="2.9"/><rect x="339.14" y="170.05" width="2.9" height="2.9"/><rect x="340.61" y="172.95" width="2.9" height="2.9"/><rect x="342.08" y="177.59" width="2.9" height="2.9"/><rect x="343.55" y="181.83" width="2.9" height="2.9"/><rect x="345.02" y="184.95" width="2.9" height="2.9"/><rect x="346.49" y="187.50" width="2.9" height="2.9"/><rect x="347.96" y="189.69" width="2.9" height="2.9"/><rect x="349.43" y="191.73" width="2.9" height="2.9"/><rect x="350.90" y="193.69" width="2.9" height="2.9"/><rect x="352.37" y="195.50" width="2.9" height="2.9"/><rect x="353.84" y="197.09" width="2.9" height="2.9"/><rect x="355.31" y="198.50" width="2.9" height="2.9"/><rect x="356.77" y="199.99" width="2.9" height="2.9"/><rect x="358.24" y="201.69" width="2.9" height="2.9"/><rect x="359.71" y="203.47" width="2.9" height="2.9"/><rect x="361.18" y="205.16" width="2.9" height="2.9"/><rect x="362.65" y="206.65" width="2.9" height="2.9"/><rect x="364.12" y="208.09" width="2.9" height="2.9"/><rect x="365.59" y="209.32" width="2.9" height="2.9"/><rect x="367.06" y="210.17" width="2.9" height="2.9"/><rect x="368.53" y="210.90" width="2.9" height="2.9"/><rect x="370.00" y="211.49" width="2.9" height="2.9"/><rect x="371.47" y="211.87" width="2.9" height="2.9"/><rect x="372.94" y="212.00" width="2.9" height="2.9"/><rect x="374.41" y="212.07" width="2.9" height="2.9"/><rect x="375.88" y="212.12" width="2.9" height="2.9"/><rect x="377.35" y="212.15" width="2.9" height="2.9"/><rect x="378.82" y="212.10" width="2.9" height="2.9"/><rect x="380.29" y="211.86" width="2.9" height="2.9"/><rect x="381.76" y="211.53" width="2.9" height="2.9"/><rect x="383.23" y="211.22" width="2.9" height="2.9"/><rect x="384.70" y="210.99" width="2.9" height="2.9"/><rect x="386.17" y="210.75" width="2.9" height="2.9"/><rect x="387.64" y="210.55" width="2.9" height="2.9"/><rect x="389.11" y="210.45" width="2.9" height="2.9"/><rect x="390.58" y="210.63" width="2.9" height="2.9"/><rect x="392.05" y="211.05" width="2.9" height="2.9"/><rect x="393.52" y="211.25" width="2.9" height="2.9"/><rect x="394.99" y="211.25" width="2.9" height="2.9"/><rect x="396.25" y="211.25" width="2.9" height="2.9"/></g>
<g fill="#fff" stroke="#000" stroke-width="1"><path d="M296.40 142.65l1.7 3.05h-3.4z"/><path d="M297.87 138.97l1.7 3.05h-3.4z"/><path d="M299.34 135.31l1.7 3.05h-3.4z"/><path d="M300.81 132.09l1.7 3.05h-3.4z"/><path d="M302.28 128.97l1.7 3.05h-3.4z"/><path d="M303.75 125.11l1.7 3.05h-3.4z"/><path d="M305.21 120.91l1.7 3.05h-3.4z"/><path d="M306.68 116.43l1.7 3.05h-3.4z"/><path d="M308.15 112.34l1.7 3.05h-3.4z"/><path d="M309.62 108.68l1.7 3.05h-3.4z"/><path d="M311.09 105.55l1.7 3.05h-3.4z"/><path d="M312.56 103.22l1.7 3.05h-3.4z"/><path d="M314.03 101.63l1.7 3.05h-3.4z"/><path d="M315.50 100.59l1.7 3.05h-3.4z"/><path d="M316.97 100.15l1.7 3.05h-3.4z"/><path d="M318.44 100.08l1.7 3.05h-3.4z"/><path d="M319.91 100.45l1.7 3.05h-3.4z"/><path d="M321.38 101.48l1.7 3.05h-3.4z"/><path d="M322.84 103.28l1.7 3.05h-3.4z"/><path d="M324.31 105.48l1.7 3.05h-3.4z"/><path d="M325.78 108.54l1.7 3.05h-3.4z"/><path d="M327.25 112.29l1.7 3.05h-3.4z"/><path d="M328.72 116.67l1.7 3.05h-3.4z"/><path d="M330.19 121.24l1.7 3.05h-3.4z"/><path d="M331.66 125.41l1.7 3.05h-3.4z"/><path d="M333.13 129.53l1.7 3.05h-3.4z"/><path d="M334.60 134.79l1.7 3.05h-3.4z"/><path d="M336.07 140.15l1.7 3.05h-3.4z"/><path d="M337.54 143.63l1.7 3.05h-3.4z"/><path d="M339.01 147.74l1.7 3.05h-3.4z"/><path d="M340.47 152.15l1.7 3.05h-3.4z"/><path d="M341.94 156.32l1.7 3.05h-3.4z"/><path d="M343.41 160.35l1.7 3.05h-3.4z"/><path d="M344.88 163.97l1.7 3.05h-3.4z"/><path d="M346.35 167.66l1.7 3.05h-3.4z"/><path d="M347.82 171.54l1.7 3.05h-3.4z"/><path d="M349.29 175.47l1.7 3.05h-3.4z"/><path d="M350.76 179.46l1.7 3.05h-3.4z"/><path d="M352.23 183.24l1.7 3.05h-3.4z"/><path d="M353.70 186.80l1.7 3.05h-3.4z"/><path d="M355.17 190.03l1.7 3.05h-3.4z"/><path d="M356.64 192.95l1.7 3.05h-3.4z"/><path d="M358.11 195.42l1.7 3.05h-3.4z"/><path d="M359.58 197.44l1.7 3.05h-3.4z"/><path d="M361.05 198.55l1.7 3.05h-3.4z"/><path d="M362.52 199.30l1.7 3.05h-3.4z"/><path d="M363.99 199.91l1.7 3.05h-3.4z"/><path d="M365.46 200.43l1.7 3.05h-3.4z"/><path d="M366.93 200.92l1.7 3.05h-3.4z"/><path d="M368.39 201.42l1.7 3.05h-3.4z"/><path d="M369.86 201.92l1.7 3.05h-3.4z"/><path d="M371.33 202.41l1.7 3.05h-3.4z"/><path d="M372.80 202.89l1.7 3.05h-3.4z"/><path d="M374.27 203.36l1.7 3.05h-3.4z"/><path d="M375.74 203.80l1.7 3.05h-3.4z"/><path d="M377.21 204.24l1.7 3.05h-3.4z"/><path d="M378.68 204.71l1.7 3.05h-3.4z"/><path d="M380.15 205.23l1.7 3.05h-3.4z"/><path d="M381.62 205.82l1.7 3.05h-3.4z"/><path d="M383.09 206.45l1.7 3.05h-3.4z"/><path d="M384.56 207.05l1.7 3.05h-3.4z"/><path d="M386.03 207.62l1.7 3.05h-3.4z"/><path d="M387.50 208.27l1.7 3.05h-3.4z"/><path d="M388.97 208.83l1.7 3.05h-3.4z"/><path d="M390.44 209.14l1.7 3.05h-3.4z"/><path d="M391.91 209.11l1.7 3.05h-3.4z"/><path d="M393.38 208.96l1.7 3.05h-3.4z"/><path d="M394.85 208.54l1.7 3.05h-3.4z"/><path d="M396.32 207.99l1.7 3.05h-3.4z"/><path d="M397.79 207.69l1.7 3.05h-3.4z"/><path d="M399.26 207.41l1.7 3.05h-3.4z"/><path d="M400.73 207.16l1.7 3.05h-3.4z"/><path d="M402.20 206.98l1.7 3.05h-3.4z"/><path d="M403.67 206.87l1.7 3.05h-3.4z"/><path d="M405.14 206.85l1.7 3.05h-3.4z"/><path d="M406.61 206.90l1.7 3.05h-3.4z"/><path d="M408.08 206.98l1.7 3.05h-3.4z"/><path d="M409.55 207.10l1.7 3.05h-3.4z"/><path d="M411.02 207.24l1.7 3.05h-3.4z"/><path d="M412.49 207.42l1.7 3.05h-3.4z"/><path d="M413.96 207.72l1.7 3.05h-3.4z"/><path d="M415.43 208.16l1.7 3.05h-3.4z"/><path d="M416.90 208.73l1.7 3.05h-3.4z"/><path d="M418.37 209.57l1.7 3.05h-3.4z"/><path d="M419.83 210.42l1.7 3.05h-3.4z"/><path d="M421.30 211.28l1.7 3.05h-3.4z"/><path d="M422.77 212.11l1.7 3.05h-3.4z"/><path d="M424.24 212.74l1.7 3.05h-3.4z"/><path d="M425.71 213.25l1.7 3.05h-3.4z"/><path d="M427.18 213.64l1.7 3.05h-3.4z"/><path d="M428.65 213.75l1.7 3.05h-3.4z"/><path d="M430.12 213.70l1.7 3.05h-3.4z"/><path d="M431.59 213.52l1.7 3.05h-3.4z"/><path d="M433.06 212.67l1.7 3.05h-3.4z"/><path d="M434.53 211.32l1.7 3.05h-3.4z"/><path d="M435.90 209.35l1.7 3.05h-3.4z"/></g>
<g fill="#fff" stroke="#000" stroke-width="1"><path d="M527.70 133.05l1.9 1.95l-1.9 1.95l-1.9 -1.95z"/><path d="M529.17 130.30l1.9 1.95l-1.9 1.95l-1.9 -1.95z"/><path d="M530.64 128.30l1.9 1.95l-1.9 1.95l-1.9 -1.95z"/><path d="M532.11 126.77l1.9 1.95l-1.9 1.95l-1.9 -1.95z"/><path d="M533.58 125.54l1.9 1.95l-1.9 1.95l-1.9 -1.95z"/><path d="M535.05 124.58l1.9 1.95l-1.9 1.95l-1.9 -1.95z"/><path d="M536.52 123.81l1.9 1.95l-1.9 1.95l-1.9 -1.95z"/><path d="M537.99 123.16l1.9 1.95l-1.9 1.95l-1.9 -1.95z"/><path d="M539.46 122.62l1.9 1.95l-1.9 1.95l-1.9 -1.95z"/><path d="M540.93 122.14l1.9 1.95l-1.9 1.95l-1.9 -1.95z"/><path d="M542.39 121.65l1.9 1.95l-1.9 1.95l-1.9 -1.95z"/><path d="M543.86 121.16l1.9 1.95l-1.9 1.95l-1.9 -1.95z"/><path d="M545.33 120.74l1.9 1.95l-1.9 1.95l-1.9 -1.95z"/><path d="M546.80 120.43l1.9 1.95l-1.9 1.95l-1.9 -1.95z"/><path d="M548.27 120.09l1.9 1.95l-1.9 1.95l-1.9 -1.95z"/><path d="M549.74 119.60l1.9 1.95l-1.9 1.95l-1.9 -1.95z"/><path d="M551.21 119.00l1.9 1.95l-1.9 1.95l-1.9 -1.95z"/><path d="M552.68 118.33l1.9 1.95l-1.9 1.95l-1.9 -1.95z"/><path d="M554.15 117.57l1.9 1.95l-1.9 1.95l-1.9 -1.95z"/><path d="M555.62 116.86l1.9 1.95l-1.9 1.95l-1.9 -1.95z"/><path d="M557.09 116.20l1.9 1.95l-1.9 1.95l-1.9 -1.95z"/><path d="M558.56 115.60l1.9 1.95l-1.9 1.95l-1.9 -1.95z"/><path d="M560.03 115.05l1.9 1.95l-1.9 1.95l-1.9 -1.95z"/><path d="M561.50 114.58l1.9 1.95l-1.9 1.95l-1.9 -1.95z"/><path d="M562.97 114.20l1.9 1.95l-1.9 1.95l-1.9 -1.95z"/><path d="M564.44 113.85l1.9 1.95l-1.9 1.95l-1.9 -1.95z"/><path d="M565.91 113.61l1.9 1.95l-1.9 1.95l-1.9 -1.95z"/><path d="M567.38 113.56l1.9 1.95l-1.9 1.95l-1.9 -1.95z"/><path d="M568.85 113.66l1.9 1.95l-1.9 1.95l-1.9 -1.95z"/><path d="M570.32 113.86l1.9 1.95l-1.9 1.95l-1.9 -1.95z"/><path d="M571.79 114.10l1.9 1.95l-1.9 1.95l-1.9 -1.95z"/><path d="M573.26 114.47l1.9 1.95l-1.9 1.95l-1.9 -1.95z"/><path d="M574.73 114.95l1.9 1.95l-1.9 1.95l-1.9 -1.95z"/><path d="M576.20 115.47l1.9 1.95l-1.9 1.95l-1.9 -1.95z"/><path d="M577.67 116.06l1.9 1.95l-1.9 1.95l-1.9 -1.95z"/><path d="M579.14 116.73l1.9 1.95l-1.9 1.95l-1.9 -1.95z"/><path d="M580.60 117.44l1.9 1.95l-1.9 1.95l-1.9 -1.95z"/><path d="M582.07 118.21l1.9 1.95l-1.9 1.95l-1.9 -1.95z"/><path d="M583.54 119.14l1.9 1.95l-1.9 1.95l-1.9 -1.95z"/><path d="M585.01 120.45l1.9 1.95l-1.9 1.95l-1.9 -1.95z"/><path d="M586.48 122.03l1.9 1.95l-1.9 1.95l-1.9 -1.95z"/><path d="M587.95 123.57l1.9 1.95l-1.9 1.95l-1.9 -1.95z"/><path d="M589.42 125.25l1.9 1.95l-1.9 1.95l-1.9 -1.95z"/><path d="M590.89 127.26l1.9 1.95l-1.9 1.95l-1.9 -1.95z"/><path d="M592.36 129.52l1.9 1.95l-1.9 1.95l-1.9 -1.95z"/><path d="M593.83 132.02l1.9 1.95l-1.9 1.95l-1.9 -1.95z"/><path d="M595.30 134.70l1.9 1.95l-1.9 1.95l-1.9 -1.95z"/><path d="M596.77 137.43l1.9 1.95l-1.9 1.95l-1.9 -1.95z"/><path d="M598.24 139.97l1.9 1.95l-1.9 1.95l-1.9 -1.95z"/><path d="M599.71 142.60l1.9 1.95l-1.9 1.95l-1.9 -1.95z"/><path d="M601.18 145.26l1.9 1.95l-1.9 1.95l-1.9 -1.95z"/><path d="M602.65 147.70l1.9 1.95l-1.9 1.95l-1.9 -1.95z"/><path d="M604.12 150.15l1.9 1.95l-1.9 1.95l-1.9 -1.95z"/><path d="M605.59 152.61l1.9 1.95l-1.9 1.95l-1.9 -1.95z"/><path d="M607.05 155.14l1.9 1.95l-1.9 1.95l-1.9 -1.95z"/><path d="M608.52 157.74l1.9 1.95l-1.9 1.95l-1.9 -1.95z"/><path d="M609.99 160.52l1.9 1.95l-1.9 1.95l-1.9 -1.95z"/><path d="M611.46 163.59l1.9 1.95l-1.9 1.95l-1.9 -1.95z"/><path d="M612.93 166.41l1.9 1.95l-1.9 1.95l-1.9 -1.95z"/><path d="M614.40 168.96l1.9 1.95l-1.9 1.95l-1.9 -1.95z"/><path d="M615.87 171.54l1.9 1.95l-1.9 1.95l-1.9 -1.95z"/><path d="M617.34 174.17l1.9 1.95l-1.9 1.95l-1.9 -1.95z"/><path d="M618.81 176.86l1.9 1.95l-1.9 1.95l-1.9 -1.95z"/><path d="M620.28 179.61l1.9 1.95l-1.9 1.95l-1.9 -1.95z"/><path d="M621.75 182.27l1.9 1.95l-1.9 1.95l-1.9 -1.95z"/><path d="M623.22 184.85l1.9 1.95l-1.9 1.95l-1.9 -1.95z"/><path d="M624.69 187.39l1.9 1.95l-1.9 1.95l-1.9 -1.95z"/><path d="M626.16 189.92l1.9 1.95l-1.9 1.95l-1.9 -1.95z"/><path d="M627.63 192.39l1.9 1.95l-1.9 1.95l-1.9 -1.95z"/><path d="M629.10 194.70l1.9 1.95l-1.9 1.95l-1.9 -1.95z"/><path d="M630.57 196.81l1.9 1.95l-1.9 1.95l-1.9 -1.95z"/><path d="M632.04 198.80l1.9 1.95l-1.9 1.95l-1.9 -1.95z"/><path d="M633.51 200.78l1.9 1.95l-1.9 1.95l-1.9 -1.95z"/><path d="M634.98 202.83l1.9 1.95l-1.9 1.95l-1.9 -1.95z"/><path d="M636.45 204.90l1.9 1.95l-1.9 1.95l-1.9 -1.95z"/><path d="M637.92 206.93l1.9 1.95l-1.9 1.95l-1.9 -1.95z"/><path d="M639.39 208.86l1.9 1.95l-1.9 1.95l-1.9 -1.95z"/><path d="M640.86 210.75l1.9 1.95l-1.9 1.95l-1.9 -1.95z"/><path d="M642.32 212.93l1.9 1.95l-1.9 1.95l-1.9 -1.95z"/><path d="M643.79 215.36l1.9 1.95l-1.9 1.95l-1.9 -1.95z"/><path d="M645.26 217.54l1.9 1.95l-1.9 1.95l-1.9 -1.95z"/><path d="M646.73 219.49l1.9 1.95l-1.9 1.95l-1.9 -1.95z"/><path d="M648.20 221.13l1.9 1.95l-1.9 1.95l-1.9 -1.95z"/><path d="M649.67 222.56l1.9 1.95l-1.9 1.95l-1.9 -1.95z"/><path d="M651.14 223.98l1.9 1.95l-1.9 1.95l-1.9 -1.95z"/><path d="M652.61 225.41l1.9 1.95l-1.9 1.95l-1.9 -1.95z"/><path d="M654.08 226.73l1.9 1.95l-1.9 1.95l-1.9 -1.95z"/><path d="M655.55 227.93l1.9 1.95l-1.9 1.95l-1.9 -1.95z"/><path d="M657.02 229.02l1.9 1.95l-1.9 1.95l-1.9 -1.95z"/><path d="M657.80 229.55l1.9 1.95l-1.9 1.95l-1.9 -1.95z"/></g>
<g fill="none" stroke="#000" stroke-width="1.7"><path d="M541.85 101.30h3.7"/><path d="M543.32 92.74h3.7"/><path d="M544.79 88.19h3.7"/><path d="M546.26 83.28h3.7"/><path d="M547.73 78.60h3.7"/><path d="M549.19 74.32h3.7"/><path d="M550.66 67.93h3.7"/><path d="M552.13 64.20h3.7"/><path d="M553.60 60.34h3.7"/><path d="M555.07 56.73h3.7"/><path d="M556.54 53.31h3.7"/><path d="M558.01 50.38h3.7"/><path d="M559.48 48.34h3.7"/><path d="M560.95 46.71h3.7"/><path d="M562.42 45.41h3.7"/><path d="M563.89 44.88h3.7"/><path d="M565.36 44.63h3.7"/><path d="M566.82 44.65h3.7"/><path d="M568.29 44.94h3.7"/><path d="M569.76 45.80h3.7"/><path d="M571.23 47.82h3.7"/><path d="M572.70 50.54h3.7"/><path d="M574.17 53.19h3.7"/><path d="M575.64 56.37h3.7"/><path d="M577.11 59.39h3.7"/><path d="M578.58 62.25h3.7"/><path d="M580.05 65.52h3.7"/><path d="M581.52 68.99h3.7"/><path d="M582.99 72.91h3.7"/><path d="M584.45 77.26h3.7"/><path d="M585.92 83.13h3.7"/><path d="M587.39 87.55h3.7"/><path d="M588.86 91.62h3.7"/><path d="M590.33 96.08h3.7"/><path d="M591.80 101.04h3.7"/><path d="M593.27 108.16h3.7"/><path d="M594.74 112.30h3.7"/><path d="M596.21 117.27h3.7"/><path d="M597.68 121.68h3.7"/><path d="M599.14 125.71h3.7"/><path d="M600.61 131.51h3.7"/><path d="M602.08 136.92h3.7"/><path d="M603.55 141.83h3.7"/><path d="M605.02 146.04h3.7"/><path d="M606.49 150.19h3.7"/><path d="M607.96 154.78h3.7"/><path d="M609.43 158.16h3.7"/><path d="M610.90 161.42h3.7"/><path d="M612.37 165.49h3.7"/><path d="M613.83 169.50h3.7"/><path d="M615.30 172.91h3.7"/><path d="M616.77 176.45h3.7"/><path d="M618.24 179.92h3.7"/><path d="M619.71 183.25h3.7"/><path d="M621.18 186.27h3.7"/><path d="M622.65 189.00h3.7"/><path d="M624.12 191.45h3.7"/><path d="M625.59 193.74h3.7"/><path d="M627.06 195.93h3.7"/><path d="M628.53 198.07h3.7"/><path d="M630.00 200.14h3.7"/><path d="M631.47 202.16h3.7"/><path d="M632.94 204.21h3.7"/><path d="M634.41 206.30h3.7"/><path d="M635.88 208.31h3.7"/><path d="M637.35 210.09h3.7"/><path d="M638.82 211.70h3.7"/><path d="M640.29 213.17h3.7"/><path d="M641.76 214.52h3.7"/><path d="M643.23 215.72h3.7"/><path d="M644.69 216.63h3.7"/><path d="M646.16 217.32h3.7"/><path d="M647.63 217.69h3.7"/><path d="M649.10 217.95h3.7"/><path d="M650.57 217.99h3.7"/><path d="M652.04 217.92h3.7"/><path d="M653.51 217.78h3.7"/><path d="M654.98 217.33h3.7"/><path d="M656.45 216.66h3.7"/><path d="M657.92 216.08h3.7"/><path d="M659.35 215.50h3.7"/></g>
<g fill="none" stroke="#111" stroke-width="0.9"><path d="M539.50 129.60h5.2M542.10 127.00v5.2"/><path d="M540.97 132.94h5.2M543.57 130.34v5.2"/><path d="M542.44 134.11h5.2M545.04 131.51v5.2"/><path d="M543.91 134.08h5.2M546.51 131.48v5.2"/><path d="M545.38 133.62h5.2M547.98 131.02v5.2"/><path d="M546.85 132.23h5.2M549.45 129.63v5.2"/><path d="M548.32 130.10h5.2M550.92 127.50v5.2"/><path d="M549.78 127.50h5.2M552.38 124.90v5.2"/><path d="M551.25 125.01h5.2M553.85 122.41v5.2"/><path d="M552.72 122.60h5.2M555.32 120.00v5.2"/><path d="M554.19 120.21h5.2M556.79 117.61v5.2"/><path d="M555.66 118.14h5.2M558.26 115.54v5.2"/><path d="M557.13 116.46h5.2M559.73 113.86v5.2"/><path d="M558.60 115.14h5.2M561.20 112.54v5.2"/><path d="M560.07 114.10h5.2M562.67 111.50v5.2"/><path d="M561.54 113.48h5.2M564.14 110.88v5.2"/><path d="M563.01 113.08h5.2M565.61 110.48v5.2"/><path d="M564.48 113.04h5.2M567.08 110.44v5.2"/><path d="M565.95 113.42h5.2M568.55 110.82v5.2"/><path d="M567.42 114.10h5.2M570.02 111.50v5.2"/><path d="M568.89 115.54h5.2M571.49 112.94v5.2"/><path d="M570.36 117.32h5.2M572.96 114.72v5.2"/><path d="M571.83 119.51h5.2M574.43 116.91v5.2"/><path d="M573.29 121.97h5.2M575.89 119.37v5.2"/><path d="M574.76 124.72h5.2M577.36 122.12v5.2"/><path d="M576.23 127.57h5.2M578.83 124.97v5.2"/><path d="M577.70 130.54h5.2M580.30 127.94v5.2"/><path d="M579.17 133.23h5.2M581.77 130.63v5.2"/><path d="M580.64 135.42h5.2M583.24 132.82v5.2"/><path d="M582.11 137.36h5.2M584.71 134.76v5.2"/><path d="M583.58 140.07h5.2M586.18 137.47v5.2"/><path d="M585.05 143.74h5.2M587.65 141.14v5.2"/><path d="M586.52 147.13h5.2M589.12 144.53v5.2"/><path d="M587.99 149.69h5.2M590.59 147.09v5.2"/><path d="M589.46 152.27h5.2M592.06 149.67v5.2"/><path d="M590.93 154.88h5.2M593.53 152.28v5.2"/><path d="M592.39 157.13h5.2M594.99 154.53v5.2"/><path d="M593.86 159.14h5.2M596.46 156.54v5.2"/><path d="M595.33 160.93h5.2M597.93 158.33v5.2"/><path d="M596.80 162.94h5.2M599.40 160.34v5.2"/><path d="M598.27 165.18h5.2M600.87 162.58v5.2"/><path d="M599.74 167.50h5.2M602.34 164.90v5.2"/><path d="M601.21 169.86h5.2M603.81 167.26v5.2"/><path d="M602.68 171.98h5.2M605.28 169.38v5.2"/><path d="M604.15 173.97h5.2M606.75 171.37v5.2"/><path d="M605.62 176.09h5.2M608.22 173.49v5.2"/><path d="M607.09 178.25h5.2M609.69 175.65v5.2"/><path d="M608.56 180.32h5.2M611.16 177.72v5.2"/><path d="M610.03 182.33h5.2M612.63 179.73v5.2"/><path d="M611.50 184.36h5.2M614.10 181.76v5.2"/><path d="M612.97 186.39h5.2M615.57 183.79v5.2"/><path d="M614.44 188.17h5.2M617.04 185.57v5.2"/><path d="M615.91 190.65h5.2M618.51 188.05v5.2"/><path d="M617.37 193.84h5.2M619.97 191.24v5.2"/><path d="M618.84 196.28h5.2M621.44 193.68v5.2"/><path d="M620.31 198.83h5.2M622.91 196.23v5.2"/><path d="M621.78 201.39h5.2M624.38 198.79v5.2"/><path d="M623.25 203.94h5.2M625.85 201.34v5.2"/><path d="M624.72 206.50h5.2M627.32 203.90v5.2"/><path d="M626.19 209.08h5.2M628.79 206.48v5.2"/><path d="M627.66 211.68h5.2M630.26 209.08v5.2"/><path d="M629.13 213.72h5.2M631.73 211.12v5.2"/><path d="M630.60 215.40h5.2M633.20 212.80v5.2"/><path d="M632.07 216.86h5.2M634.67 214.26v5.2"/><path d="M633.54 218.10h5.2M636.14 215.50v5.2"/><path d="M635.01 218.75h5.2M637.61 216.15v5.2"/><path d="M636.48 219.17h5.2M639.08 216.57v5.2"/><path d="M637.95 219.26h5.2M640.55 216.66v5.2"/><path d="M639.42 217.85h5.2M642.02 215.25v5.2"/><path d="M640.80 214.80h5.2M643.40 212.20v5.2"/><path d="M642.00 211.10h5.2M644.60 208.50v5.2"/><path d="M643.50 207.60h5.2M646.10 205.00v5.2"/><path d="M645.20 203.40h5.2M647.80 200.80v5.2"/><path d="M646.60 197.30h5.2M649.20 194.70v5.2"/><path d="M647.70 190.10h5.2M650.30 187.50v5.2"/></g>
<text x="130.3" y="83.7" font-size="12" fill="#000">BuOH</text>
<text x="72" y="183.4" font-size="12" fill="#000">MeOH</text>
<text x="188.4" y="249.6" font-size="12" fill="#000">PrOH</text>
<text x="166.1" y="265.8" font-size="12" fill="#000">EtOH</text>
<text x="290.6" y="87.8" font-size="12" fill="#000">MEK</text>
<text x="284.3" y="161.3" font-size="12" fill="#000">Tol</text>
<text x="361.3" y="245.7" font-size="12" fill="#000">Act</text>
<text x="586.1" y="61.1" font-size="12" fill="#000">FA</text>
<text x="516.4" y="127.2" font-size="12" fill="#000">EG</text>
<text x="554.5" y="149.5" font-size="12" fill="#000">Water</text>
<rect x="79.1" y="332.45" width="543" height="15.85" fill="#fff" stroke="#333" stroke-width="1.2"/>
<circle cx="93.9" cy="340.05" r="5.4" fill="#000"/>
<rect x="153.4" y="335.45" width="9.2" height="9.2" fill="#000"/>
<path d="M217.2 335.25l5.3 9h-10.6z" fill="#000"/>
<path d="M277.4 334.65000000000003l5.6 5.4l-5.6 5.4l-5.6 -5.4z" fill="#000"/>
<circle cx="339.4" cy="340.05" r="4.9" fill="none" stroke="#222" stroke-width="0.7"/>
<rect x="379.5" y="335.55" width="9" height="9" fill="none" stroke="#222" stroke-width="0.7"/>
<path d="M440.1 335.25l5.5 9.2h-11z" fill="none" stroke="#222" stroke-width="0.7"/>
<path d="M482 334.45l5.8 5.6l-5.8 5.6l-5.8 -5.6z" fill="none" stroke="#222" stroke-width="0.7"/>
<path d="M521.5 339.95h11" fill="none" stroke="#111" stroke-width="1.1"/>
<path d="M562.5 340.25h9.4M567.2 335.55v9.4" fill="none" stroke="#555" stroke-width="0.7"/>
<path d="M101.80 336.8h1.2v1.2h-1.2zM101.80 341.7h1.2v1.2h-1.2z" fill="#111"/>
<text x="104.1" y="344.9" font-size="14.6" fill="#000" textLength="42.0" lengthAdjust="spacingAndGlyphs">MeOH,</text>
<path d="M164.70 336.8h1.2v1.2h-1.2zM164.70 341.7h1.2v1.2h-1.2z" fill="#111"/>
<text x="167.6" y="344.9" font-size="14.6" fill="#000" textLength="36.7" lengthAdjust="spacingAndGlyphs">EtOH,</text>
<path d="M224.90 336.8h1.2v1.2h-1.2zM224.90 341.7h1.2v1.2h-1.2z" fill="#111"/>
<text x="227.6" y="344.9" font-size="14.6" fill="#000" textLength="35.8" lengthAdjust="spacingAndGlyphs">PrOH,</text>
<path d="M284.70 336.8h1.2v1.2h-1.2zM284.70 341.7h1.2v1.2h-1.2z" fill="#111"/>
<text x="287.6" y="344.9" font-size="14.6" fill="#000" textLength="40.9" lengthAdjust="spacingAndGlyphs">BuOH,</text>
<path d="M346.60 336.8h1.2v1.2h-1.2zM346.60 341.7h1.2v1.2h-1.2z" fill="#111"/>
<text x="349.5" y="344.9" font-size="14.6" fill="#000" textLength="22.6" lengthAdjust="spacingAndGlyphs">Act,</text>
<path d="M391.10 336.8h1.2v1.2h-1.2zM391.10 341.7h1.2v1.2h-1.2z" fill="#111"/>
<text x="393.9" y="344.9" font-size="14.6" fill="#000" textLength="34.5" lengthAdjust="spacingAndGlyphs">MEK,</text>
<path d="M448.30 336.8h1.2v1.2h-1.2zM448.30 341.7h1.2v1.2h-1.2z" fill="#111"/>
<text x="451.0" y="344.9" font-size="14.6" fill="#000" textLength="19.5" lengthAdjust="spacingAndGlyphs">Tol,</text>
<path d="M489.80 336.8h1.2v1.2h-1.2zM489.80 341.7h1.2v1.2h-1.2z" fill="#111"/>
<text x="492.8" y="344.9" font-size="14.6" fill="#000" textLength="21.0" lengthAdjust="spacingAndGlyphs">EG,</text>
<path d="M534.60 336.8h1.2v1.2h-1.2zM534.60 341.7h1.2v1.2h-1.2z" fill="#111"/>
<text x="537.7" y="344.9" font-size="14.6" fill="#000" textLength="20.6" lengthAdjust="spacingAndGlyphs">FA,</text>
<path d="M575.00 336.8h1.2v1.2h-1.2zM575.00 341.7h1.2v1.2h-1.2z" fill="#111"/>
<text x="578.1" y="344.9" font-size="14.6" fill="#000" textLength="35.5" lengthAdjust="spacingAndGlyphs">Water</text>
</svg>
</body></html>
